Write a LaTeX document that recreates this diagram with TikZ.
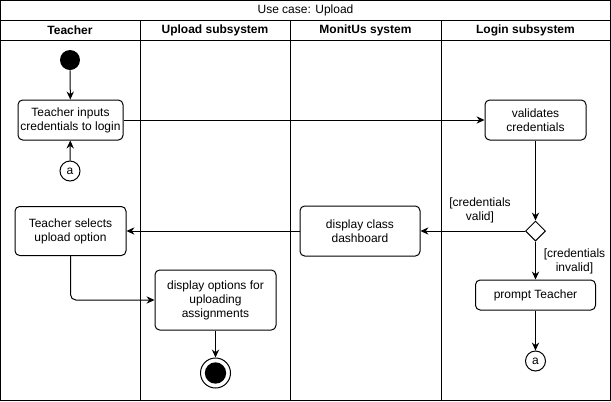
\documentclass[tikz,border=0pt]{standalone}
\usepackage{fontspec}
\setmainfont{Liberation Sans}
\usetikzlibrary{arrows.meta,shapes.geometric}
\begin{document}
\begin{tikzpicture}[x=0.75pt,y=-0.75pt,
  every node/.style={font=\fontsize{9}{10.5}\selectfont},
  act/.style={draw,line width=0.75pt,rounded corners=3.5pt,align=center,inner sep=0pt},
  conn/.style={draw,circle,line width=0.75pt,minimum size=15pt,inner sep=0pt},
  flow/.style={line width=0.75pt,-{Stealth[length=6pt,width=5.5pt,inset=2pt]}},
  frame/.style={line width=0.75pt},
  hdr/.style={font=\fontsize{9}{10.5}\selectfont\bfseries},
  guard/.style={font=\fontsize{9}{10.5}\selectfont,inner sep=0pt}]
\fill[white] (0,0) rectangle (611,401);
\useasboundingbox (0,0) rectangle (611,401);
% frame
\draw[frame] (0.5,0.5) rectangle (610.5,400.5);
\draw[frame] (0.5,20) -- (610.5,20);
\draw[frame] (0.5,40) -- (610.5,40);
\draw[frame] (140,20) -- (140,400.5);
\draw[frame] (290,20) -- (290,400.5);
\draw[frame] (441,20) -- (441,400.5);
\node (title) at (305.5,10.5) {Use case: Upload};
\node[hdr] (h1) at (70,30.5) {Teacher};
\node[hdr] (h2) at (215,30.5) {Upload subsystem};
\node[hdr] (h3) at (365.5,30.5) {MonitUs system};
\node[hdr] (h4) at (525.5,30.5) {Login subsystem};
% nodes
\node[circle,fill=black,minimum size=15pt,inner sep=0pt] (start) at (70,60) {};
\node[act,minimum width=78.75pt,minimum height=30pt] (inputs) at (70.5,120) {Teacher inputs\\credentials to login};
\node[conn] (atop) at (70,171) {a};
\node[act,minimum width=75.75pt,minimum height=30pt] (valid) at (535.5,120) {validates\\credentials};
\node[draw,diamond,line width=0.75pt,minimum size=15pt,inner sep=0pt] (dec) at (535.5,231) {};
\node[act,minimum width=90pt,minimum height=37.5pt] (dash) at (360,231) {display class\\dashboard};
\node[act,minimum width=83.25pt,minimum height=36.75pt] (select) at (70.5,231) {Teacher selects\\upload option};
\node[act,minimum width=90.75pt,minimum height=45pt] (opts) at (215.5,300) {display options for\\uploading\\assignments};
\node[act,minimum width=90pt,minimum height=22.5pt] (prompt) at (535.5,295) {prompt Teacher};
\node[conn] (abot) at (535.5,361) {a};
\node[circle,draw,line width=0.75pt,minimum size=22.5pt,inner sep=0pt] (end) at (215.5,373) {};
\node[circle,fill=black,minimum size=16pt,inner sep=0pt] (endin) at (end.center) {};
\node[guard,align=center] (gv) at (480,210) {[credentials\\valid]};
\node[guard,align=center] (gi) at (574.5,261) {[credentials\\invalid]};
% flows
\draw[flow] (start) -- (inputs);
\draw[flow] (atop) -- (inputs);
\draw[flow] (inputs) -- (valid);
\draw[flow] (valid) -- (dec);
\draw[flow] (dec) -- (dash);
\draw[flow] (dash) -- (select);
\draw[flow,rounded corners=4pt] (select.south) |- (opts.west);
\draw[flow] (opts) -- (end);
\draw[flow] (dec) -- (prompt);
\draw[flow] (prompt) -- (abot);
\end{tikzpicture}
\end{document}
